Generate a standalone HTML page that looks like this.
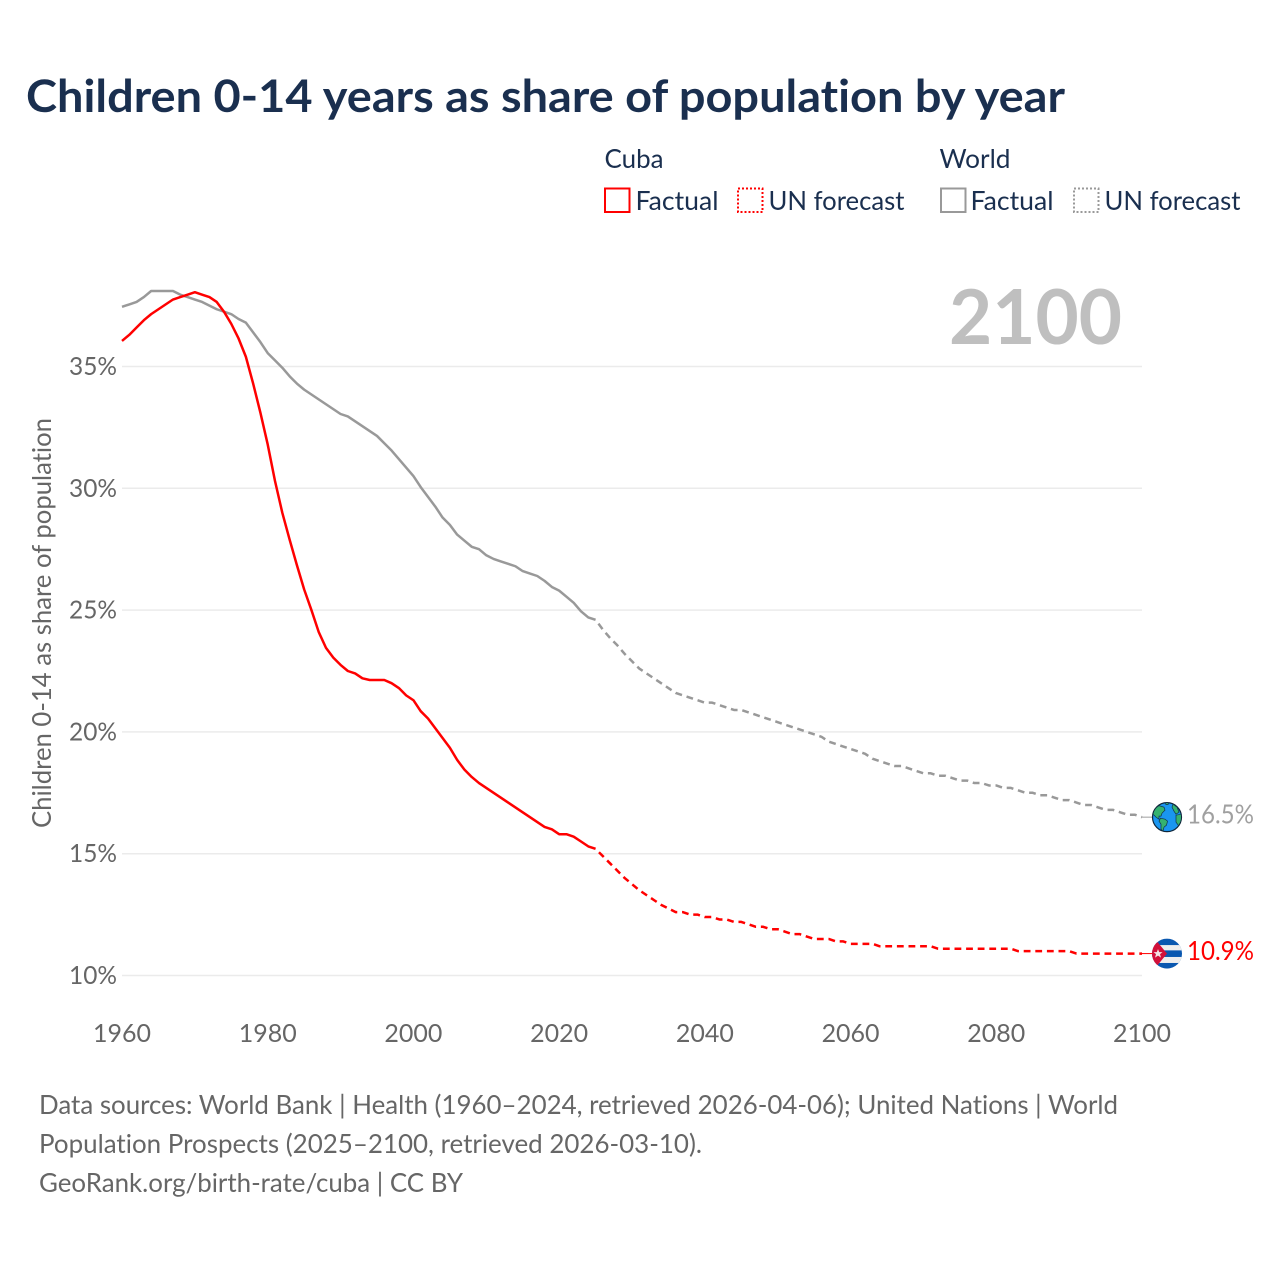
<!DOCTYPE html>
<html lang="en">
<head>
<meta charset="utf-8">
<title>Children 0-14 years as share of population by year</title>
<style>
html,body{margin:0;padding:0;background:#fff;}
svg{display:block;font-family:"Lato","Carlito","Liberation Sans",sans-serif;font-variant-ligatures:none;}
</style>
</head>
<body>
<svg id="chart" width="1280" height="1280" viewBox="0 0 1280 1280" xmlns="http://www.w3.org/2000/svg">
  <rect width="1280" height="1280" fill="#fff"/>
  <text x="26" y="112" font-size="44.5" font-weight="700" fill="#1a2f4f" textLength="1039" lengthAdjust="spacingAndGlyphs">Children 0-14 years as share of population by year</text>

  <g font-size="26" fill="#1a2f4f">
    <text x="604.5" y="168" textLength="59" lengthAdjust="spacingAndGlyphs">Cuba</text>
    <text x="939.5" y="168" textLength="71" lengthAdjust="spacingAndGlyphs">World</text>

    <rect x="605" y="188.5" width="24.5" height="23.5" fill="none" stroke="#f00" stroke-width="2"/>
    <text x="635.5" y="210" textLength="83" lengthAdjust="spacingAndGlyphs">Factual</text>
    <rect x="738" y="188.5" width="24.5" height="23.5" fill="none" stroke="#f00" stroke-width="2" stroke-dasharray="2 2"/>
    <text x="768.5" y="210" textLength="136" lengthAdjust="spacingAndGlyphs">UN forecast</text>

    <rect x="941" y="188.5" width="24.5" height="23.5" fill="none" stroke="#999" stroke-width="2"/>
    <text x="970.5" y="210" textLength="83" lengthAdjust="spacingAndGlyphs">Factual</text>
    <rect x="1074" y="188.5" width="24.5" height="23.5" fill="none" stroke="#999" stroke-width="2" stroke-dasharray="2 2"/>
    <text x="1104.5" y="210" textLength="136" lengthAdjust="spacingAndGlyphs">UN forecast</text>
  </g>

  <g id="grid"></g>
  <g id="yticks" font-size="25" fill="#666"></g>
  <g id="xticks" font-size="25" fill="#666"></g>

  <text x="949" y="344" font-size="76" font-weight="700" fill="#bfbfbf" textLength="173" lengthAdjust="spacingAndGlyphs">2100</text>

  <text transform="translate(51,828) rotate(-90)" font-size="26" fill="#666" textLength="410" lengthAdjust="spacingAndGlyphs">Children 0-14 as share of population</text>

  <g id="series"></g>

  <defs>
    <clipPath id="flag-clip"><circle cx="0" cy="0" r="15"/></clipPath>
    <clipPath id="globe-clip"><circle cx="0" cy="0" r="14"/></clipPath>
  </defs>

  <g id="world-marker">
    <circle r="14.5" fill="#1a96f0" stroke="#10263a" stroke-width="1.2"/>
    <g clip-path="url(#globe-clip)" fill="#35b26f" stroke="#10304a" stroke-width="0.7">
      <path d="M-13,-8 L-8,-11.5 L-3,-10 L-2,-7 L-5,-4 L-6,-1 L-8,-1 L-8,2 L-11,0 L-14,-3 Z"/>
      <path d="M-6.5,1 L-2,2 L0.5,4 L-0.5,8 L-3,10 L-4,14 L-6,12 L-6,7 L-8,4 Z"/>
      <path d="M6,-13 L10,-10 L12,-5 L9,-3 L7,-6 L5,-10 Z"/>
      <path d="M9,-2 L15,-3 L15,7 L12,9 L9,5 Z"/>
      <path d="M-2,-15 L2,-15 L1,-12.5 L-1,-12.5 Z"/>
    </g>
  </g>

  <g id="cuba-marker">
    <g clip-path="url(#flag-clip)">
      <rect x="-15" y="-15" width="30" height="30" fill="#0a58b0"/>
      <rect x="-15" y="-8.5" width="30" height="5.3" fill="#eee"/>
      <rect x="-15" y="3.4" width="30" height="6" fill="#eee"/>
      <path d="M-15,-15 L-9,-11 L0,0 L-9,11 L-15,15 Z" fill="#d2103a"/>
      <path d="M-9,-4.5 L-7.8,-1.5 L-4.5,-1.5 L-7,0.6 L-6,4 L-9,2 L-12,4 L-11,0.6 L-13.5,-1.5 L-10.2,-1.5 Z" fill="#f3e4e6"/>
    </g>
  </g>

  <g id="endlabels" font-size="26"></g>

  <g font-size="26" fill="#666">
    <text x="39" y="1114" textLength="1079" lengthAdjust="spacingAndGlyphs">Data sources: World Bank | Health (1960–2024, retrieved 2026-04-06); United Nations | World</text>
    <text x="39" y="1153" textLength="663" lengthAdjust="spacingAndGlyphs">Population Prospects (2025–2100, retrieved 2026-03-10).</text>
    <text x="39" y="1192" textLength="424" lengthAdjust="spacingAndGlyphs">GeoRank.org/birth-rate/cuba | CC BY</text>
  </g>
</svg>

<script>
const xTickYears = [1960, 1980, 2000, 2020, 2040, 2060, 2080, 2100];
const yTickValues = [10, 15, 20, 25, 30, 35];
const factualStartYear = 1960;
const forecastStartYear = 2025;

const cubaFactual = [
  36.05,36.3,36.6,36.9,37.15,37.35,37.55,37.75,37.85,37.95,
  38.05,37.95,37.85,37.65,37.25,36.75,36.15,35.4,34.3,33.1,
  31.8,30.3,29,27.9,26.85,25.85,25.0,24.1,23.45,23.05,
  22.75,22.5,22.4,22.2,22.13,22.13,22.13,22,21.8,21.5,
  21.3,20.85,20.55,20.15,19.75,19.35,18.85,18.45,18.15,17.9,
  17.7,17.5,17.3,17.1,16.9,16.7,16.5,16.3,16.1,16,
  15.8,15.8,15.7,15.5,15.3,15.2
];
const cubaForecast = [
  15.2,14.9,14.6,14.3,14.0,13.75,13.5,13.3,13.1,12.9,
  12.75,12.6,12.6,12.5,12.5,12.4,12.4,12.3,12.3,12.2,
  12.2,12.1,12.0,12.0,11.9,11.9,11.8,11.7,11.7,11.6,
  11.5,11.5,11.5,11.4,11.4,11.3,11.3,11.3,11.3,
  11.2,11.2,11.2,11.2,11.2,11.2,11.2,11.2,
  11.1,11.1,11.1,11.1,11.1,11.1,11.1,11.1,11.1,11.1,11.1,
  11.0,11.0,11.0,11.0,11.0,11.0,11.0,11.0,
  10.9,10.9,10.9,10.9,10.9,10.9,10.9,10.9,10.9,10.9
];
const worldFactual = [
  37.45,37.55,37.65,37.85,38.1,38.1,38.1,38.1,37.95,37.85,
  37.75,37.65,37.5,37.35,37.25,37.15,36.95,36.8,36.4,36.0,
  35.55,35.25,34.95,34.6,34.3,34.05,33.85,33.65,33.45,33.25,
  33.05,32.95,32.75,32.55,32.35,32.15,31.85,31.55,31.2,30.85,
  30.5,30.05,29.65,29.25,28.8,28.5,28.1,27.85,27.6,27.5,
  27.25,27.1,27,26.9,26.8,26.6,26.5,26.4,26.2,25.95,
  25.8,25.55,25.3,24.95,24.7,24.6
];
const worldForecast = [
  24.6,24.2,23.85,23.55,23.2,22.9,22.6,22.4,22.2,22.0,
  21.8,21.6,21.5,21.4,21.3,21.2,21.2,21.1,21.0,20.9,
  20.9,20.8,20.7,20.6,20.5,20.4,20.3,20.2,20.1,20.0,
  19.9,19.8,19.6,19.5,19.4,19.3,19.2,19.1,18.9,18.8,
  18.7,18.6,18.6,18.5,18.4,18.3,18.3,18.2,18.2,18.1,
  18.0,18.0,17.9,17.9,17.8,17.8,17.7,17.7,17.6,17.5,
  17.5,17.4,17.4,17.3,17.2,17.2,17.1,17.0,17.0,16.9,
  16.8,16.8,16.7,16.6,16.6,16.5
];

const NS = 'http://www.w3.org/2000/svg';
function xScale(year) { return 122 + (year - 1960) * (1020 / 140); }
function yScale(value) { return 975.5 - (value - 10) * 24.36; }
function pathFrom(values, startYear) {
  return values.map(function (v, i) {
    return (i ? 'L' : 'M') + xScale(startYear + i).toFixed(2) + ',' + yScale(v).toFixed(2);
  }).join(' ');
}

const gridGroup = document.getElementById('grid');
const yTickGroup = document.getElementById('yticks');
yTickValues.forEach(function (v) {
  const line = document.createElementNS(NS, 'line');
  
  
  line.setAttribute('x1', 122);
  line.setAttribute('x2', 1142);
  line.setAttribute('y1', yScale(v));
  line.setAttribute('y2', yScale(v));
  line.setAttribute('stroke', '#ebebeb');
  line.setAttribute('stroke-width', 1.5);
  gridGroup.appendChild(line);

  const label = document.createElementNS(NS, 'text');
  
  
  label.setAttribute('x', 69);
  label.setAttribute('y', yScale(v) + 8.5);
  label.setAttribute('textLength', 48);
  label.setAttribute('lengthAdjust', 'spacingAndGlyphs');
  label.textContent = v + '%';
  yTickGroup.appendChild(label);
});

const xTickGroup = document.getElementById('xticks');
xTickYears.forEach(function (yr) {
  const label = document.createElementNS(NS, 'text');
  
  
  label.setAttribute('x', xScale(yr) - 29);
  label.setAttribute('y', 1042);
  label.setAttribute('textLength', 58);
  label.setAttribute('lengthAdjust', 'spacingAndGlyphs');
  label.textContent = yr;
  xTickGroup.appendChild(label);
});

const seriesGroup = document.getElementById('series');
function addLine(name, values, startYear, color, dashed) {
  const p = document.createElementNS(NS, 'path');
  
  
  p.setAttribute('d', pathFrom(values, startYear));
  p.setAttribute('fill', 'none');
  p.setAttribute('stroke', color);
  p.setAttribute('stroke-width', 2.5);
  p.setAttribute('stroke-linejoin', 'round');
  if (dashed) {
    p.setAttribute('stroke-dasharray', '6.8 4.8');
    p.setAttribute('stroke-dashoffset', '6.8');
  }
  seriesGroup.appendChild(p);
}
addLine('world-factual-line', worldFactual, factualStartYear, '#999999', false);
addLine('world-forecast-line', worldForecast, forecastStartYear, '#999999', true);
addLine('cuba-factual-line', cubaFactual, factualStartYear, '#ff0000', false);
addLine('cuba-forecast-line', cubaForecast, forecastStartYear, '#ff0000', true);

const endYear = forecastStartYear + cubaForecast.length - 1;
const endLabelGroup = document.getElementById('endlabels');
function addEnd(name, markerId, value, color) {
  const yPos = yScale(value);
  document.getElementById(markerId).setAttribute('transform', 'translate(1167,' + yPos + ')');

  const lead = document.createElementNS(NS, 'line');
  
  
  lead.setAttribute('x1', xScale(endYear));
  lead.setAttribute('x2', 1153);
  lead.setAttribute('y1', yPos);
  lead.setAttribute('y2', yPos);
  lead.setAttribute('stroke', color);
  lead.setAttribute('stroke-width', 1);
  seriesGroup.appendChild(lead);

  const label = document.createElementNS(NS, 'text');
  
  
  label.setAttribute('x', 1187);
  label.setAttribute('y', yPos + 6.5);
  label.setAttribute('fill', color);
  label.setAttribute('textLength', 67);
  label.setAttribute('lengthAdjust', 'spacingAndGlyphs');
  label.textContent = value.toFixed(1) + '%';
  endLabelGroup.appendChild(label);
}
addEnd('world', 'world-marker', worldForecast[worldForecast.length - 1], '#a0a0a0');
addEnd('cuba', 'cuba-marker', cubaForecast[cubaForecast.length - 1], '#ff0000');
</script>
</body>
</html>
